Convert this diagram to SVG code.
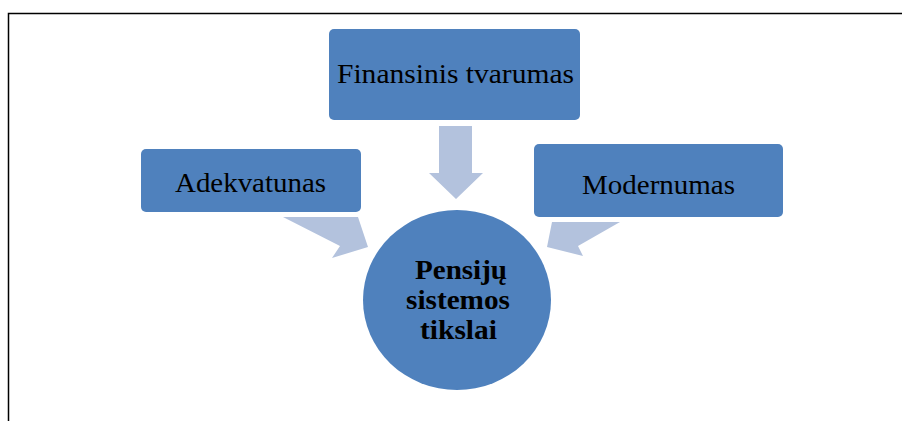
<svg xmlns="http://www.w3.org/2000/svg" width="902" height="421" viewBox="0 0 902 421">
<style>
.box{fill:#4F81BD;}
.arr{fill:#B3C2DD;}
.lbl{font-family:"Liberation Serif","Times New Roman",serif;font-size:27px;fill:#000;text-anchor:middle;}
.ctr{font-family:"Liberation Serif","Times New Roman",serif;font-size:27px;font-weight:bold;fill:#000;text-anchor:middle;}
.frame{stroke:#000;stroke-width:1.5;fill:none;}
</style>
<rect width="902" height="421" fill="#fff"/>
<path class="frame" d="M8.5,421 V13.5 H902"/>
<g id="connectors">
<polygon class="arr" points="439,126 472,126 472,173 483,173 456,199 429,173 439,173"/>
<polygon class="arr" points="283,217 358,217 368,247 332,258 340,246"/>
<polygon class="arr" points="620,222 552,222 547,247 583,256 578,246"/>
</g>
<g id="node-finansinis">
<rect class="box" x="329" y="29" width="251" height="91" rx="5"/>
<text class="lbl" x="455.5" y="83" textLength="237" lengthAdjust="spacingAndGlyphs">Finansinis tvarumas</text>
</g>
<g id="node-adekvatunas">
<rect class="box" x="141" y="149" width="220" height="63" rx="5"/>
<text class="lbl" x="250.5" y="192" textLength="151" lengthAdjust="spacingAndGlyphs">Adekvatunas</text>
</g>
<g id="node-modernumas">
<rect class="box" x="534" y="144" width="249" height="73" rx="5"/>
<text class="lbl" x="658.5" y="194" textLength="153" lengthAdjust="spacingAndGlyphs">Modernumas</text>
</g>
<g id="node-center">
<ellipse class="box" cx="457" cy="300" rx="94" ry="90"/>
<text class="ctr" x="461" y="279" textLength="92" lengthAdjust="spacingAndGlyphs">Pensijų</text>
<text class="ctr" x="458" y="309" textLength="104" lengthAdjust="spacingAndGlyphs">sistemos</text>
<text class="ctr" x="458.5" y="339" textLength="77" lengthAdjust="spacingAndGlyphs">tikslai</text>
</g>
</svg>
